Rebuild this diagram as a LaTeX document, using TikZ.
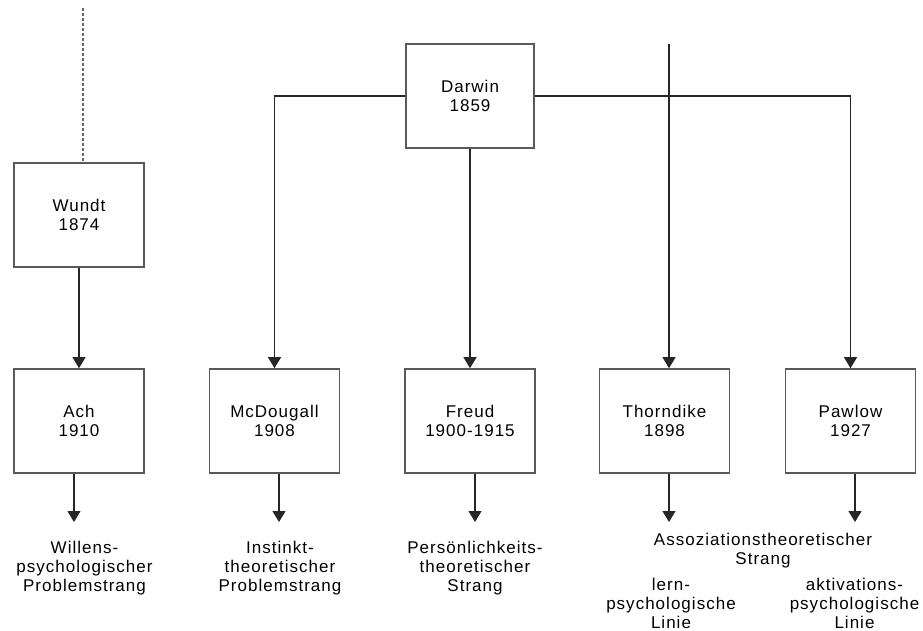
\documentclass[tikz,border=0pt]{standalone}
\usepackage{fontspec}
\setmainfont{Liberation Sans}[LetterSpace=6]
\usetikzlibrary{arrows.meta}
\begin{document}
\begin{tikzpicture}[x=1pt,y=-1pt,
  font=\fontsize{17}{19}\selectfont,
  person/.style={draw=black!65, line width=1.6pt, fill=white,
    minimum width=130pt, minimum height=104pt, align=center, inner sep=0pt},
  link/.style={draw=black!85, line width=1.1pt},
  arr/.style={link, -{Triangle[width=13pt,length=11pt]}},
  strand/.style={align=center, inner sep=0pt}]
\useasboundingbox (0,0) rectangle (923,630);

% persons
\node[person] (wundt)  at (79,215)    {Wundt\\1874};
\node[person, minimum width=128pt] (darwin) at (470,96) {Darwin\\1859};
\node[person] (ach)    at (79,421)    {Ach\\1910};
\node[person] (mcd)    at (274.5,421) {McDougall\\1908};
\node[person] (freud)  at (470,421)   {Freud\\1900-1915};
\node[person] (thorn)  at (664.5,421) {Thorndike\\1898};
\node[person] (pawlow) at (850.5,421) {Pawlow\\1927};

% free ends of lines
\coordinate (wtop)  at (83,8);
\coordinate (ttop)  at (669,44);
\coordinate (achE)  at (74,522);
\coordinate (mcdE)  at (279,522);
\coordinate (freudE) at (475,522);
\coordinate (thornE) at (669,522);
\coordinate (pawE)  at (855,522);

% strand labels
\node[strand] (willen)   at (84.5,568) {Willens-\\psychologischer\\Problemstrang};
\node[strand] (instinkt) at (280,568)  {Instinkt-\\theoretischer\\Problemstrang};
\node[strand] (persoen)  at (475,568)  {Persönlichkeits-\\theoretischer\\Strang};
\node[strand] (assoz)    at (763,551)  {Assoziationstheoretischer\\Strang};
\node[strand] (lern)     at (671,603)  {lern-\\psychologische\\Linie};
\node[strand] (aktiv)    at (854.5,603) {aktivations-\\psychologische\\Linie};

% connections
\draw[link, draw=black!60, dash pattern=on 3pt off 2pt] (wtop) -- (wtop |- wundt.north);
\draw[arr] (wundt) -- (ach);
\draw[arr] (darwin.west) -| (mcd.north);
\draw[arr] (darwin.east) -| (pawlow.north);
\draw[arr] (darwin) -- (freud);
\draw[arr] (ttop) -- (ttop |- thorn.north);

\draw[arr] (achE |- ach.south) -- (achE);
\draw[arr] (mcdE |- mcd.south) -- (mcdE);
\draw[arr] (freudE |- freud.south) -- (freudE);
\draw[arr] (thornE |- thorn.south) -- (thornE);
\draw[arr] (pawE |- pawlow.south) -- (pawE);
\end{tikzpicture}
\end{document}
